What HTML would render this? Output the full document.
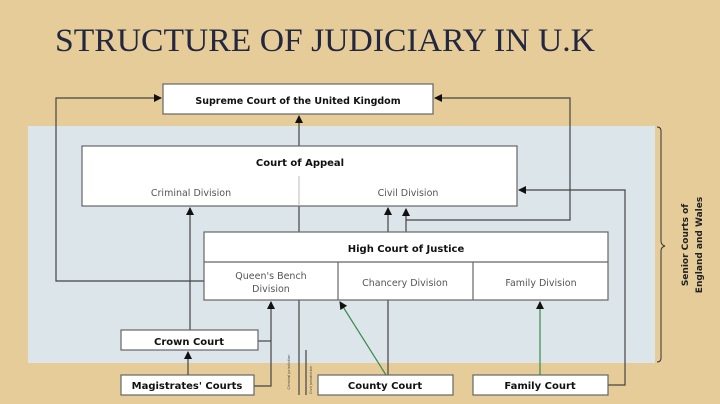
<!DOCTYPE html>
<html><head><meta charset="utf-8"><style>
html,body{margin:0;padding:0;}
body{width:720px;height:404px;overflow:hidden;background:#e6cc98;}
svg{display:block}
</style></head><body>
<svg width="720" height="404" viewBox="0 0 720 404" xmlns="http://www.w3.org/2000/svg" font-family="'DejaVu Sans','Liberation Sans',sans-serif">
<defs>
<marker id="a" markerWidth="8" markerHeight="8" refX="7" refY="4" orient="auto" markerUnits="userSpaceOnUse"><path d="M0,0 L8,4 L0,8 Z" fill="#111"/></marker>
</defs>
<rect width="720" height="404" fill="#e6cc98"/>
<text x="55" y="51" font-family="'Liberation Serif',serif" font-size="33" fill="#232740" textLength="540" lengthAdjust="spacingAndGlyphs">STRUCTURE OF JUDICIARY IN U.K</text>
<rect x="28" y="126" width="627" height="237" fill="#dce5ea"/>
<path d="M657,127 q4,0 4,4 v110 q0,4 4,5 q-4,1 -4,5 v107 q0,4 -4,4" fill="none" stroke="#333" stroke-width="1"/>
<text transform="translate(688,245) rotate(-90)" font-size="9" font-weight="bold" fill="#222" text-anchor="middle">Senior Courts of</text>
<text transform="translate(702,245) rotate(-90)" font-size="9" font-weight="bold" fill="#222" text-anchor="middle">England and Wales</text>
<g fill="none" stroke="#444" stroke-width="1.2">
<polyline points="204,281 56,281 56,98 161,98" marker-end="url(#a)"/>
<polyline points="406,232 406,220 570,220 570,98 435,98" marker-end="url(#a)"/>
<line x1="406" y1="220" x2="406" y2="209" marker-end="url(#a)"/>
<polyline points="608,385 625,385 625,190 519,190" marker-end="url(#a)"/>
<line x1="299" y1="146" x2="299" y2="116" marker-end="url(#a)"/>
<line x1="299" y1="206" x2="299" y2="232"/>
<line x1="299" y1="300" x2="299" y2="395"/>
<line x1="306" y1="350" x2="306" y2="395"/>
<line x1="190" y1="330" x2="190" y2="208" marker-end="url(#a)"/>
<line x1="188" y1="375" x2="188" y2="352" marker-end="url(#a)"/>
<polyline points="254,386 271,386 271,302" marker-end="url(#a)"/>
<line x1="258" y1="341" x2="271" y2="341"/>
<line x1="388" y1="375" x2="388" y2="208" marker-end="url(#a)"/>
</g>
<g stroke-width="1.2">
<line x1="386" y1="375" x2="340" y2="302" stroke="#3a8a4a" marker-end="url(#a)"/>
<line x1="540" y1="375" x2="540" y2="302" stroke="#3a8a4a" marker-end="url(#a)"/>
</g>
<text transform="translate(290,372) rotate(-90)" font-size="3.5" fill="#333" text-anchor="middle">Criminal jurisdiction</text>
<text transform="translate(312,380) rotate(-90)" font-size="3.5" fill="#333" text-anchor="middle">Civil jurisdiction</text>
<g fill="#fff" stroke="#666" stroke-width="1.2">
<rect x="163" y="84" width="270" height="30"/>
<rect x="82" y="146" width="435" height="60"/>
<rect x="204" y="232" width="404" height="68"/>
<line x1="204" y1="262" x2="608" y2="262"/>
<line x1="338" y1="262" x2="338" y2="300"/>
<line x1="473" y1="262" x2="473" y2="300"/>
<rect x="121" y="330" width="137" height="20"/>
<rect x="121" y="375" width="133" height="20"/>
<rect x="318" y="375" width="135" height="20"/>
<rect x="473" y="375" width="135" height="20"/>
</g>
<line x1="299" y1="176" x2="299" y2="206" stroke="#bbb" stroke-width="1"/>
<g font-size="10" fill="#111" text-anchor="middle">
<text x="298" y="104" font-weight="bold" font-size="9.5">Supreme Court of the United Kingdom</text>
<text x="300" y="166" font-weight="bold">Court of Appeal</text>
<text x="191" y="196" fill="#555" font-size="9.5">Criminal Division</text>
<text x="408" y="196" fill="#555" font-size="9.5">Civil Division</text>
<text x="406" y="252" font-weight="bold">High Court of Justice</text>
<text x="271" y="279" fill="#555" font-size="9.5">Queen's Bench</text>
<text x="271" y="292" fill="#555" font-size="9.5">Division</text>
<text x="405" y="286" fill="#555" font-size="9.5">Chancery Division</text>
<text x="541" y="286" fill="#555" font-size="9.5">Family Division</text>
<text x="189" y="345" font-weight="bold">Crown Court</text>
<text x="187" y="389" font-weight="bold">Magistrates' Courts</text>
<text x="385" y="389" font-weight="bold">County Court</text>
<text x="540" y="389" font-weight="bold">Family Court</text>
</g>
</svg>
</body></html>
